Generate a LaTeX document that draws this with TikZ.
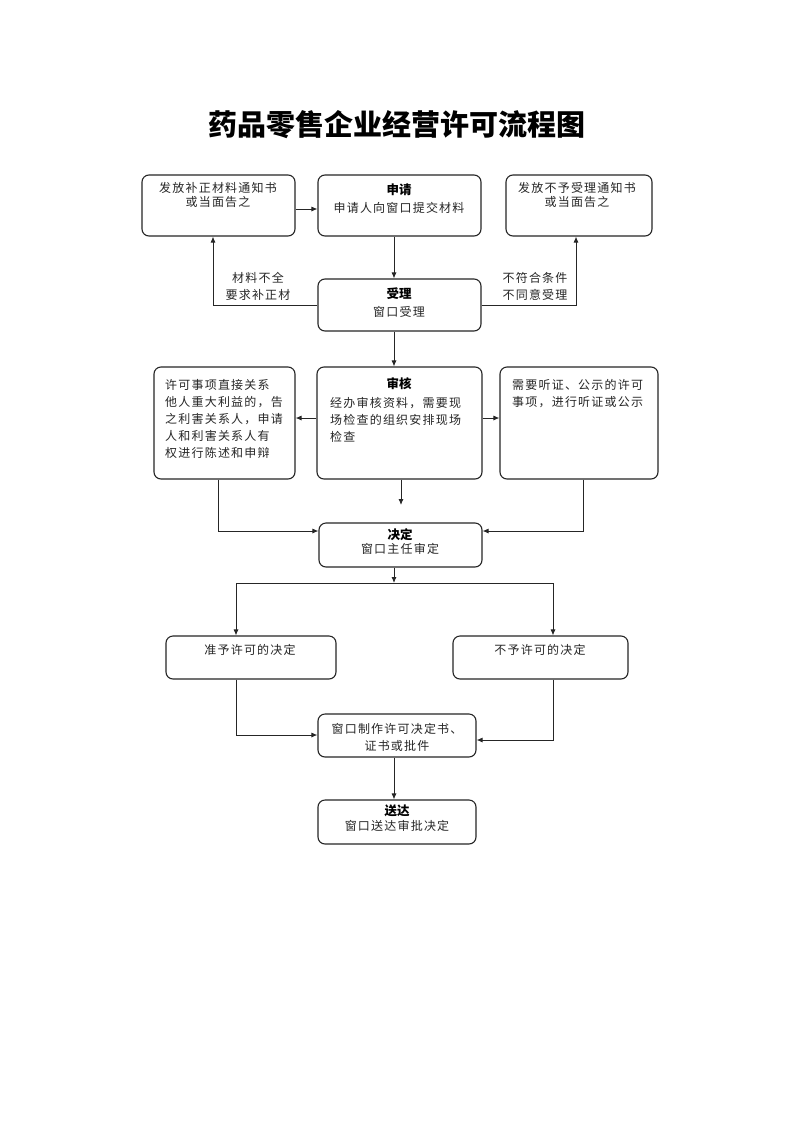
\documentclass[tikz,border=0pt]{standalone}
\usepackage{fontspec}
\usetikzlibrary{arrows.meta}
\newfontfamily\cjk[LetterSpace=10]{Noto Sans CJK SC}
\newfontfamily\cjktitle{Noto Sans CJK SC}
\begin{document}
\begin{tikzpicture}[x=1pt,y=-1pt,
  box/.style={draw=black!85, line width=1.1pt, rounded corners=7pt, inner sep=0pt},
  txt/.style={font=\cjk\fontsize{12}{17}\selectfont, inner sep=0pt, text=black!85},
  hd/.style={font=\cjktitle\bfseries\fontsize{12.5}{14}\selectfont, inner sep=0pt},
  conn/.style={draw=black!85, line width=0.9pt},
  arr/.style={conn, -{Latex[length=6pt,width=5pt]}}]
\useasboundingbox (0,0) rectangle (793,1122);
\fill[white] (0,0) rectangle (793,1122);

% title
\node[font=\cjktitle\bfseries\fontsize{29}{32}\selectfont, inner sep=0pt] (title) at (397,125) {药品零售企业经营许可流程图};

% helper coordinates
\coordinate (x394) at (394,0);
\coordinate (y209) at (0,209);
\coordinate (y418) at (0,418);
\coordinate (c213) at (213,0);
\coordinate (c576) at (576,0);
\coordinate (jL) at (218,531);
\coordinate (jR) at (583,531);
\coordinate (shEnd) at (401,505);
\coordinate (br) at (394,583);
\coordinate (brL) at (236,583);
\coordinate (brR) at (553,583);
\coordinate (mL) at (236,735);
\coordinate (mR) at (553,740);

% boxes
\node[box, minimum width=153pt, minimum height=61pt] (bz) at (218.5,205.5) {};
\node[box, minimum width=163pt, minimum height=61pt] (sq) at (399.5,205.5) {};
\node[box, minimum width=146pt, minimum height=61pt] (by) at (579,205.5) {};
\node[box, minimum width=163pt, minimum height=52pt] (sl) at (399.5,305) {};
\node[box, minimum width=141pt, minimum height=112pt] (lb) at (224.5,423) {};
\node[box, minimum width=165pt, minimum height=112pt] (sh) at (399.5,423) {};
\node[box, minimum width=158pt, minimum height=112pt] (rb) at (579,423) {};
\node[box, minimum width=163pt, minimum height=44pt] (jd) at (400.5,545) {};
\node[box, minimum width=170pt, minimum height=43pt] (zy) at (251,657.5) {};
\node[box, minimum width=175pt, minimum height=43pt] (bx) at (540.5,657.5) {};
\node[box, minimum width=158pt, minimum height=43pt] (zz) at (397,735.5) {};
\node[box, minimum width=158pt, minimum height=44pt] (sd) at (397,822) {};

% texts
\node[txt, align=center, font=\cjk\fontsize{12}{14}\selectfont] (tbz) at (218,195) {发放补正材料通知书\\或当面告之};
\node[hd] (hsq) at (399,190) {申请};
\node[txt] (tsq) at (399,208) {申请人向窗口提交材料};
\node[txt, align=center, font=\cjk\fontsize{12}{14}\selectfont] (tby) at (577,195) {发放不予受理通知书\\或当面告之};
\node[txt, align=center] (lbl1) at (258,286.5) {材料不全\\要求补正材};
\node[txt, align=center] (lbl2) at (535,286.5) {不符合条件\\不同意受理};
\node[hd] (hsl) at (399,294) {受理};
\node[txt] (tsl) at (399,312) {窗口受理};
\node[txt, align=left, anchor=west] (tlb) at (165,419) {许可事项直接关系\\他人重大利益的，告\\之利害关系人，申请\\人和利害关系人有\\权进行陈述和申辩};
\node[hd] (hsh) at (399,384) {审核};
\node[txt, align=left, anchor=west] (tsh) at (330,419.5) {经办审核资料，需要现\\场检查的组织安排现场\\检查};
\node[txt, align=left, anchor=west] (trb) at (512,393.5) {需要听证、公示的许可\\事项，进行听证或公示};
\node[hd] (hjd) at (400,535) {决定};
\node[txt] (tjd) at (400,549) {窗口主任审定};
\node[txt] (tzy) at (250,650) {准予许可的决定};
\node[txt] (tbx) at (540,650) {不予许可的决定};
\node[txt, align=center] (tzz) at (397,737) {窗口制作许可决定书、\\证书或批件};
\node[hd] (hsd) at (397,811) {送达};
\node[txt] (tsd) at (397,826) {窗口送达审批决定};

% connectors
\draw[arr] (bz.east |- y209) -- (sq.west |- y209);
\draw[arr] (sq.south -| x394) -- (sl.north -| x394);
\draw[arr] (sl.west) -| (bz.south -| c213);
\draw[arr] (sl.east) -| (by.south -| c576);
\draw[arr] (sl.south -| x394) -- (sh.north -| x394);
\draw[arr] (sh.west |- y418) -- (lb.east |- y418);
\draw[arr] (sh.east |- y418) -- (rb.west |- y418);
\draw[arr] (sh.south -| shEnd) -- (shEnd);
\draw[arr] (lb.south -| jL) |- (jd.west |- jL);
\draw[arr] (rb.south -| jR) |- (jd.east |- jR);
\draw[arr] (jd.south -| br) -- (br);
\draw[conn] (brL) -- (brR);
\draw[arr] (brL) -- (zy.north -| brL);
\draw[arr] (brR) -- (bx.north -| brR);
\draw[arr] (zy.south -| mL) |- (zz.west |- mL);
\draw[arr] (bx.south -| mR) |- (zz.east |- mR);
\draw[arr] (zz.south -| x394) -- (sd.north -| x394);
\end{tikzpicture}
\end{document}
